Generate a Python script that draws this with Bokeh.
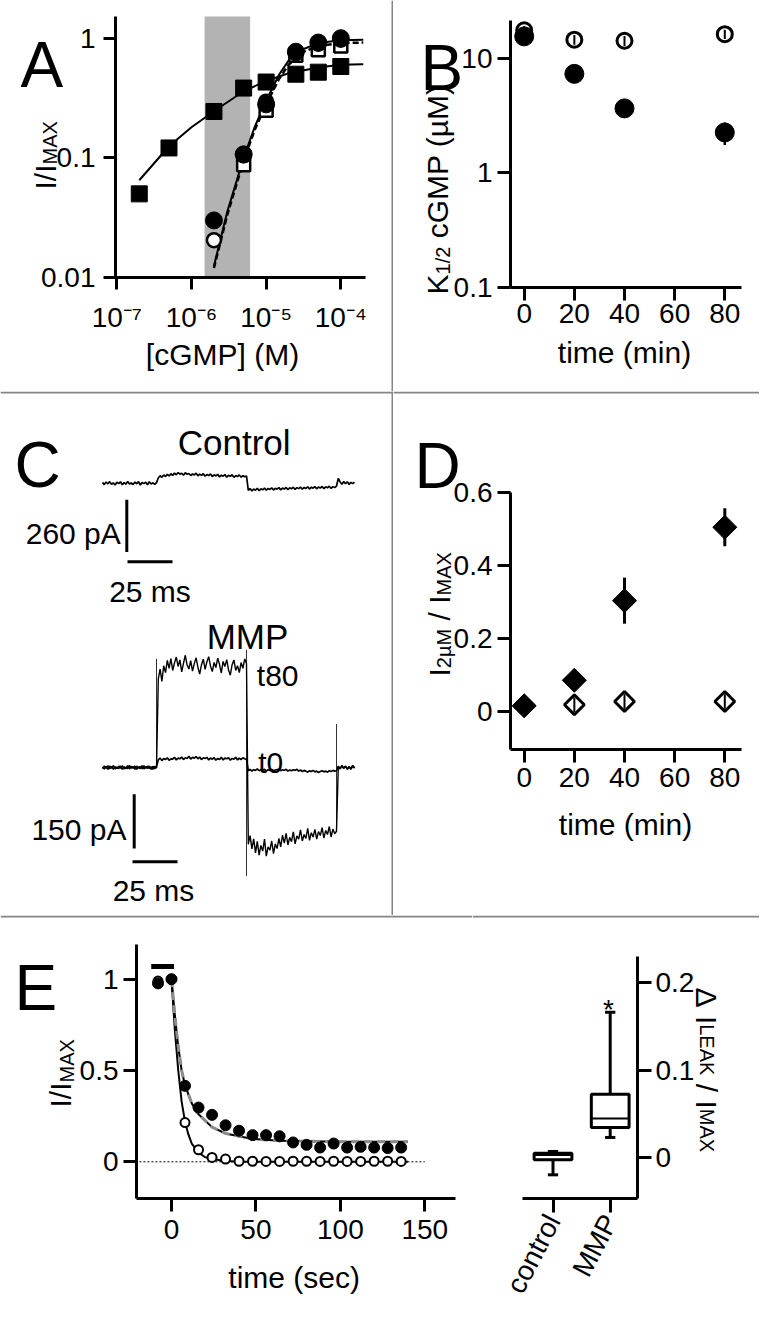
import math
import numpy as np
from bokeh.plotting import figure
from bokeh.layouts import column, row
from bokeh.models import Label, BoxAnnotation, FixedTicker, CustomJSTickFormatter, Range1d, Span
from bokeh.embed import file_html
from bokeh.resources import INLINE

FONT = "Liberation Sans"
TICK_FS = "28px"
TITLE = 30
SUB = 20
SEP_COLOR = "#858585"

# ====================== DATA ======================
# ---- Panel A : I/Imax vs [cGMP] (M)
A_conc_sq = [2e-7, 5e-7, 2e-6, 5e-6, 1e-5, 2.5e-5, 5e-5, 1e-4]
A_sq_filled = [0.050, 0.121, 0.244, 0.383, 0.43, 0.50, 0.52, 0.58]
A_conc_sq_open = [5e-6, 1e-5, 2.5e-5, 5e-5, 1e-4]
A_sq_open = [0.0875, 0.25, 0.72, 0.80, 0.86]
A_conc_circ = [2e-6, 5e-6, 1e-5, 2.5e-5, 5e-5, 1e-4]
A_circ_filled = [0.030, 0.107, 0.28, 0.77, 0.92, 1.0]
A_circ_open = [0.0205, 0.105, 0.295, 0.75, 0.90, 0.97]
A_fit_sq_conc = [2e-7, 5e-7, 1e-6, 2e-6, 5e-6, 1e-5, 2e-5, 5e-5, 1e-4, 2e-4]
A_fit_sq = [0.065, 0.125, 0.18, 0.245, 0.36, 0.44, 0.51, 0.57, 0.60, 0.605]
A_fit_circ_conc = [2e-6, 3e-6, 5e-6, 7e-6, 1e-5, 1.5e-5, 2e-5, 3e-5, 5e-5, 1e-4, 2e-4]
A_fit_circ_solid = [0.0125, 0.035, 0.10, 0.18, 0.30, 0.50, 0.65, 0.80, 0.91, 0.96, 0.97]
A_fit_circ_dash = [0.012, 0.033, 0.095, 0.17, 0.28, 0.46, 0.60, 0.76, 0.86, 0.91, 0.92]
A_band = [1.5e-6, 6.1e-6]
A_xticks = [1e-7, 1e-6, 1e-5, 1e-4]
A_yticks = [0.01, 0.1, 1]

# ---- Panel B : K1/2 (uM) vs time (min)
B_time = [0, 20, 40, 80]
B_k_mmp = [15.5, 7.3, 3.65, 2.25]
B_k_mmp_err = [1.0, 0.5, 0.3, 0.5]
B_k_ctl = [17.5, 14.5, 14.2, 16.2]
B_k_ctl_err = [1.6, 1.4, 1.4, 1.5]
B_xticks = [0, 20, 40, 60, 80]
B_yticks = [0.1, 1, 10]

# ---- Panel C : current traces (pA, 1 ms samples, t = 0..140 ms)
ctl_base1 = [4, -7, 6, -3, 8, -6, 2, -9, 5, -2, 7, -8, 3, -5, 9, -4, 1, -7, 6, -3,
             8, -9, 4, -2, 5, -8, 7, -4, 2, -6, 3]
ctl_on = [26, 37, 29, 41, 33, 44, 36, 47, 39, 50,
          42, 53, 45, 49, 40, 52, 44, 48, 38, 46,
          41, 50, 37, 45, 39, 47, 35, 43, 38, 46,
          33, 42, 36, 44, 31, 40, 35, 43, 30, 39,
          34, 42, 29, 38, 33, 41, 30, 37, 32, 36]
ctl_off = [-36, -27, -38, -29, -35, -25, -37, -28, -33, -24,
           -35, -26, -31, -23, -34, -25, -30, -22, -33, -24,
           -29, -21, -32, -23, -28, -20, -31, -22, -27, -19,
           -30, -21, -26, -18, -29, -20, -25, -17, -28, -19,
           -24, -16, -27, -18, -23, -15, -26, -17, -22, -14]
ctl_base2 = [24, 6, -5, 8, -3, 7, -6, 4, -2, 5]

t0_base1 = [2, -4, 3, -5, 4, -2, 5, -4, 1, -3, 4, -5, 2, -3, 5, -4, 3, -2, 4, -5,
            1, -3, 5, -4, 2, -2, 4, -5, 3, -3, 2]
t0_on = [21, 26, 19, 25, 22, 27, 20, 24, 23, 28,
         21, 26, 24, 29, 22, 27, 25, 31, 23, 28,
         26, 30, 24, 29, 22, 27, 25, 28, 21, 26,
         23, 27, 20, 25, 22, 28, 21, 26, 24, 27,
         20, 25, 23, 28, 21, 26, 22, 27, 24, 23]
t0_off = [-9, -5, -10, -6, -8, -4, -9, -6, -7, -5,
          -10, -6, -8, -5, -9, -7, -6, -4, -9, -6,
          -8, -5, -10, -7, -9, -6, -8, -5, -10, -7,
          -11, -8, -10, -13, -9, -11, -8, -12, -10, -14,
          -11, -9, -12, -10, -13, -9, -11, -8, -10, -9]
t0_base2 = [3, -4, 5, -2, 4, -5, 2, -3, 6, -2]

t80_base1 = [-3, 4, -2, 5, -4, 3, -5, 2, -3, 4, -2, 5, -4, 1, -3, 6, -2, 3, -5, 4,
             -1, 3, -4, 5, -2, 4, -3, 2, -5, 3, -1]
t80_on = [245, 272, 238, 281, 262, 296, 274, 301, 268, 289,
          305, 279, 297, 264, 288, 310, 283, 272, 295, 266,
          287, 303, 277, 258, 284, 299, 271, 292, 306, 280,
          265, 290, 276, 302, 285, 261, 293, 279, 298, 270,
          255, 284, 297, 268, 281, 262, 290, 274, 300, 287]
t80_off = [-212, -188, -225, -197, -236, -204, -242, -215, -231, -198,
           -245, -219, -228, -203, -238, -211, -224, -196, -219, -187,
           -209, -182, -214, -193, -205, -178, -211, -189, -198, -172,
           -203, -185, -196, -168, -201, -180, -192, -171, -198, -177,
           -188, -166, -195, -174, -185, -163, -192, -170, -183, -176]
t80_base2 = [4, -3, 5, -2, 3, -4, 2, -5, 4, -1]
# capacitive transients of the t80 trace (ms, pA top, pA bottom)
t80_spike_t = [30, 80, 130]
t80_spike_top = [300, 325, 120]
t80_spike_bot = [0, -300, -176]
C_scale_ctl_pA = 260
C_scale_mmp_pA = 150
C_scale_ms = 25

# ---- Panel D : I(2uM)/Imax vs time (min)
D_time = [0, 20, 40, 80]
D_mmp = [0.015, 0.085, 0.303, 0.504]
D_mmp_err = [0.005, 0.01, 0.063, 0.052]
D_ctl = [0.015, 0.018, 0.027, 0.027]
D_ctl_err = [0.02, 0.02, 0.02, 0.02]
D_yticks = [0, 0.2, 0.4, 0.6]

# ---- Panel E (left) : I/Imax vs time (sec)
E_t = [-8, 0, 8, 16, 24, 32, 40, 48, 56, 64, 72, 80, 88, 96, 104, 112, 120, 128, 136]
E_mmp = [0.977, 1.0, 0.416, 0.297, 0.257, 0.20, 0.17, 0.146, 0.146, 0.14,
         0.106, 0.093, 0.078, 0.10, 0.078, 0.082, 0.078, 0.075, 0.078]
E_ctl = [0.99, 1.0, 0.215, 0.066, 0.024, 0.015, 0.003, 0.003, 0.002, 0.002,
         0.003, 0.003, 0.002, 0.003, 0.002, 0.002, 0.003, 0.003, 0.002]
E_fit_t_mmp = [0, 2, 4, 6, 8, 12, 16, 24, 32, 48, 64, 100, 140]
E_fit_mmp = [1.0, 0.80, 0.63, 0.50, 0.42, 0.32, 0.26, 0.19, 0.155, 0.125, 0.115, 0.11, 0.11]
E_fit_t_ctl = [0, 2, 4, 6, 8, 10, 12, 16, 20, 30, 40, 140]
E_fit_ctl = [1.0, 0.72, 0.50, 0.33, 0.22, 0.15, 0.10, 0.05, 0.025, 0.006, 0.0, 0.0]
E_bar_t = [-12, 1.5]
E_bar_y = [1.07, 1.07]
E_zero_t = [-19, 150]
E_zero_y = [0, 0]
E_xticks = [0, 50, 100, 150]
E_yticks = [0, 0.5, 1]

# ---- Panel E (right) : box plot of delta I_leak / I_max
E2_groups = ["control", "MMP"]
E2_lo = [-0.0198, 0.0229]
E2_q1 = [-0.0026, 0.0343]
E2_med = [0.003, 0.0446]
E2_q3 = [0.0049, 0.0723]
E2_hi = [0.0069, 0.166]
E2_yticks = [0, 0.1, 0.2]

# ====================== HELPERS ======================
WID = {'I': 0.278, '/': 0.278, 'M': 0.833, 'A': 0.667, 'X': 0.667, 'K': 0.667, '1': 0.556,
       '2': 0.556, ' ': 0.278, 'c': 0.5, 'G': 0.778, 'P': 0.667, '(': 0.333, ')': 0.333,
       'µ': 0.576, 'Δ': 0.668, 'L': 0.556, 'E': 0.667}


def tw(s, px):
    return sum(WID.get(ch, 0.556) for ch in s) * px


class Map:
    """maps a screen coordinate (px) to a data value, from two reference ticks"""
    def __init__(self, v0, p0, v1, p1, log=False):
        f = math.log10 if log else (lambda v: v)
        self.log = log
        self.a0, self.a1, self.p0, self.p1 = f(v0), f(v1), p0, p1

    def __call__(self, P):
        a = self.a0 + (P - self.p0) * (self.a1 - self.a0) / (self.p1 - self.p0)
        return 10 ** a if self.log else a


def style_axes(p, tick_out=12, sx=8, sy=6):
    for ax in p.axis:
        ax.axis_line_width = 3
        ax.axis_line_color = "black"
        ax.major_tick_line_width = 3
        ax.major_tick_line_color = "black"
        ax.major_tick_out = tick_out
        ax.major_tick_in = 0
        ax.minor_tick_line_color = None
        ax.major_label_text_font = FONT
        ax.major_label_text_font_size = TICK_FS
        ax.major_label_text_color = "black"
    for ax in p.xaxis:
        ax.major_label_standoff = sx
    for ax in p.yaxis:
        ax.major_label_standoff = sy


def base_fig(w, h, **kw):
    p = figure(width=w, height=h, output_backend="svg", toolbar_location=None, min_border=0, **kw)
    p.outline_line_color = None
    p.background_fill_color = "white"
    p.border_fill_color = "white"
    p.grid.visible = False
    return p


def make_panel(x0, y0, w, h, rect, xm, ym, xlog=False, ylog=False, yside="left",
               tick_out=12, sx=8, sy=6):
    L, T, R, B = rect
    p = base_fig(w, h, x_axis_type="log" if xlog else "linear",
                 y_axis_type="log" if ylog else "linear",
                 x_range=Range1d(xm(x0), xm(x0 + w)), y_range=Range1d(ym(y0 + h), ym(y0)),
                 y_axis_location=yside)
    for ax in p.xaxis:
        ax.fixed_location = ym(B)
        ax.bounds = (xm(L), xm(R))
    for ax in p.yaxis:
        ax.fixed_location = xm(L if yside == "left" else R)
        ax.bounds = (ym(B), ym(T))
    style_axes(p, tick_out, sx, sy)
    return p, (x0, y0, x0 + w, y0 + h)


def separator(p, loc, dim):
    p.add_layout(Span(location=loc, dimension=dim, line_color=SEP_COLOR, line_width=2))


def label(p, frame, X, Y, text, size, align="left", baseline="alphabetic", angle=0.0):
    fl, ft, fr, fb = frame
    p.add_layout(Label(x=X - fl, y=fb - Y, x_units="screen", y_units="screen", text=text,
                       text_font=FONT, text_font_size=f"{size}px", text_align=align,
                       text_baseline=baseline, angle=angle, text_color="black"))


def vtext(p, frame, X, Y, parts, up=True):
    pos = Y
    for s, size, off in parts:
        if s.strip():
            if up:
                label(p, frame, X + off, pos, s, size, angle=math.pi / 2)
            else:
                label(p, frame, X - off, pos, s, size, angle=-math.pi / 2)
        pos = pos - tw(s, size) if up else pos + tw(s, size)


def num_fmt():
    return CustomJSTickFormatter(code="return String(tick);")


SUP_CODE = """
const sup = {"-": "⁻", "0": "⁰", "1": "¹", "2": "²", "3": "³", "4": "⁴",
             "5": "⁵", "6": "⁶", "7": "⁷", "8": "⁸", "9": "⁹"};
const e = Math.round(Math.log10(tick));
return "10" + String(e).split("").map(c => sup[c]).join("");
"""


def err_seg(p, x, y, e, **kw):
    lo = [a - b for a, b in zip(y, e)]
    hi = [a + b for a, b in zip(y, e)]
    p.segment(x0=x, y0=lo, x1=x, y1=hi, **kw)


# ====================== PANEL A ======================
rA = (123, 24, 373, 285)
xmA = Map(1e-7, 124.3, 1e-4, 348.3, log=True)
ymA = Map(1, 45.7, 0.01, 285, log=True)
pA, fA = make_panel(8, 8, 393, 391, rA, xmA, ymA, xlog=True, ylog=True, tick_out=12, sx=12, sy=8)
separator(pA, xmA(400), "height")
pA.add_layout(BoxAnnotation(left=A_band[0], right=A_band[1], bottom=ymA(rA[3]), top=ymA(rA[1]),
                            fill_color="#b3b3b3", fill_alpha=1.0, line_color=None, level="underlay"))
pA.line(A_fit_sq_conc, A_fit_sq, line_color="black", line_width=2)
pA.line(A_fit_circ_conc, A_fit_circ_solid, line_color="black", line_width=2)
pA.line(A_fit_circ_conc, A_fit_circ_dash, line_color="black", line_width=2.5, line_dash="6 3")
pA.scatter(A_conc_sq, A_sq_filled, marker="square", size=16, color="black")
pA.scatter(A_conc_sq_open, A_sq_open, marker="square", size=13, fill_color="white",
           line_color="black", line_width=2.5)
pA.scatter(A_conc_circ, A_circ_open, marker="circle", size=14, fill_color="white",
           line_color="black", line_width=2.5)
pA.scatter(A_conc_circ, A_circ_filled, marker="circle", size=17, color="black")
pA.xaxis.ticker = FixedTicker(ticks=A_xticks)
pA.yaxis.ticker = FixedTicker(ticks=A_yticks)
pA.xaxis.formatter = CustomJSTickFormatter(code=SUP_CODE)
pA.yaxis.formatter = num_fmt()
label(pA, fA, 28, 72, "A", 64)
vtext(pA, fA, 52.7, 197, [("I/I", TITLE, 0), ("MAX", SUB, 5)])
label(pA, fA, 230, 362, "[cGMP] (M)", TITLE, align="center")

# ====================== PANEL B ======================
rB = (518, 28, 749, 295)
xmB = Map(0, 531.7, 80, 732.3)
ymB = Map(10, 65.7, 0.1, 295, log=True)
pB, fB = make_panel(401, 8, 366, 391, rB, xmB, ymB, ylog=True, tick_out=13, sx=3, sy=5)
pB.scatter(B_time, B_k_ctl, marker="circle", size=15, fill_color="white",
           line_color="black", line_width=3)
err_seg(pB, B_time, B_k_ctl, B_k_ctl_err, line_color="black", line_width=2)
err_seg(pB, B_time, B_k_mmp, B_k_mmp_err, line_color="black", line_width=2.5)
pB.scatter(B_time, B_k_mmp, marker="circle", size=19, color="black")
pB.xaxis.ticker = FixedTicker(ticks=B_xticks)
pB.yaxis.ticker = FixedTicker(ticks=B_yticks)
pB.xaxis.formatter = num_fmt()
pB.yaxis.formatter = num_fmt()
label(pB, fB, 428, 75, "B", 64)
vtext(pB, fB, 445, 302, [("K", TITLE, 0), ("1/2", SUB, 5), (" ", TITLE, 0),
                         ("cGMP (µM)", TITLE, 0)])
label(pB, fB, 632, 360, "time (min)", TITLE, align="center")

# ====================== PANEL C ======================
C_T0_X = 110.0       # screen x of t = 0
C_PX_MS = 1.8        # px per ms
xmC = Map(0, C_T0_X, 1, C_T0_X + C_PX_MS)
C1_BASE, C1_PA_PX = 490.7, 4.97
C2_BASE, C2_PA_PX = 775.0, 2.762
ymC1 = Map(0, C1_BASE, -C1_PA_PX, C1_BASE + 1)
ymC2 = Map(0, C2_BASE, -C2_PA_PX, C2_BASE + 1)
CX0, CY0, CW, CH = 8, 399, 393, 524
pC = base_fig(CW, CH, x_axis_location=None, y_axis_location=None,
              x_range=Range1d(xmC(CX0), xmC(CX0 + CW)),
              y_range=Range1d(ymC1(CY0 + CH), ymC1(CY0)))
pC.extra_y_ranges = {"mmp": Range1d(ymC2(CY0 + CH), ymC2(CY0))}
fC = (CX0, CY0, CX0 + CW, CY0 + CH)
separator(pC, xmC(400), "height")
separator(pC, ymC1(400), "width")

ctl = ctl_base1 + ctl_on + ctl_off + ctl_base2
pC.line(np.arange(len(ctl)), ctl, line_color="black", line_width=1.7)
vb = ymC1(507.3)
pC.line([xmC(134.3), xmC(134.3)], [vb, vb - C_scale_ctl_pA], line_color="black", line_width=3)
pC.line([xmC(135), xmC(135) + C_scale_ms], [ymC1(569.2), ymC1(569.2)], line_color="black", line_width=3)

t80 = t80_base1 + t80_on + t80_off + t80_base2
t0 = t0_base1 + t0_on + t0_off + t0_base2
pC.segment(x0=t80_spike_t, y0=t80_spike_bot, x1=t80_spike_t, y1=t80_spike_top,
           line_color="#333333", line_width=1, y_range_name="mmp")
pC.line(np.arange(len(t80)), t80, line_color="black", line_width=1.4, y_range_name="mmp")
pC.line(np.arange(len(t0)), t0, line_color="black", line_width=1.7, y_range_name="mmp")
vb2 = ymC2(801.7)
pC.line([xmC(141.7), xmC(141.7)], [vb2, vb2 - C_scale_mmp_pA], line_color="black", line_width=3,
        y_range_name="mmp")
pC.line([xmC(140), xmC(140) + C_scale_ms], [ymC2(869.3), ymC2(869.3)], line_color="black",
        line_width=3, y_range_name="mmp")

label(pC, fC, 22, 472, "C", 64)
label(pC, fC, 241.7, 450, "Control", 35, align="center")
label(pC, fC, 128.3, 541, f"{C_scale_ctl_pA} pA", 30, align="right")
label(pC, fC, 157.5, 599, f"{C_scale_ms} ms", 30, align="center")
label(pC, fC, 255, 644, "MMP", 35, align="center")
label(pC, fC, 264.3, 683, "t80", 30)
label(pC, fC, 265.7, 770, "t0", 30)
label(pC, fC, 134, 837, f"{C_scale_mmp_pA} pA", 30, align="right")
label(pC, fC, 161, 898, f"{C_scale_ms} ms", 30, align="center")

# ====================== PANEL D ======================
rD = (518, 500, 749, 757)
xmD = Map(0, 531.7, 80, 732.3)
ymD = Map(0, 718.8, 0.6, 499.7)
pD, fD = make_panel(401, 399, 366, 524, rD, xmD, ymD, tick_out=13, sx=5, sy=5)
separator(pD, ymD(400), "width")
err_seg(pD, D_time, D_mmp, D_mmp_err, line_color="black", line_width=3)
pD.scatter(D_time, D_ctl, marker="square", angle=math.pi / 4, size=14, fill_color="white",
           line_color="black", line_width=3)
err_seg(pD, D_time[1:], D_ctl[1:], D_ctl_err[1:], line_color="black", line_width=2)
pD.scatter(D_time, D_mmp, marker="square", angle=math.pi / 4, size=17, color="black")
pD.xaxis.ticker = FixedTicker(ticks=B_xticks)
pD.yaxis.ticker = FixedTicker(ticks=D_yticks)
pD.xaxis.formatter = num_fmt()
pD.yaxis.formatter = num_fmt()
label(pD, fD, 422, 473, "D", 64)
vtext(pD, fD, 446.7, 684, [("I", TITLE, 0), ("2µM", SUB, 5), (" ", TITLE, 0), ("/", TITLE, 0),
                           (" ", TITLE, 0), ("I", TITLE, 0), ("MAX", SUB, 5)])
label(pD, fD, 633, 832, "time (min)", TITLE, align="center")

# ====================== PANEL E (left) ======================
rE1 = (144, 952, 463, 1206)
xmE1 = Map(0, 179, 150, 432.3)
ymE1 = Map(0, 1169.3, 1, 986.7)
pE1, fE1 = make_panel(8, 923, 472, 394, rE1, xmE1, ymE1, tick_out=13, sx=8, sy=5)
separator(pE1, ymE1(924), "width")
pE1.line(E_zero_t, E_zero_y, line_color="black", line_width=1, line_dash="2 2")
pE1.line(E_bar_t, E_bar_y, line_color="black", line_width=5)
pE1.line(E_fit_t_ctl, E_fit_ctl, line_color="black", line_width=2)
pE1.line(E_fit_t_mmp, E_fit_mmp, line_color="black", line_width=2)
pE1.line(E_fit_t_mmp, E_fit_mmp, line_color="#8c8c8c", line_width=3, line_dash="8 5")
pE1.scatter(E_t, E_ctl, marker="circle", size=9, fill_color="white", line_color="black", line_width=2)
pE1.scatter(E_t, E_mmp, marker="circle", size=11, color="black")
pE1.xaxis.ticker = FixedTicker(ticks=E_xticks)
pE1.yaxis.ticker = FixedTicker(ticks=E_yticks)
pE1.xaxis.formatter = num_fmt()
pE1.yaxis.formatter = num_fmt()
label(pE1, fE1, 22, 995, "E", 64)
vtext(pE1, fE1, 68.3, 1115, [("I/I", TITLE, 0), ("MAX", SUB, 6)])
label(pE1, fE1, 301.7, 1285, "time (sec)", TITLE, align="center")

# ====================== PANEL E (right) ======================
rE2 = (530, 964, 645, 1206)
xmE2 = Map(1, 560.5, 2, 617.7)
ymE2 = Map(0, 1165, 0.2, 990)
pE2, fE2 = make_panel(480, 923, 287, 394, rE2, xmE2, ymE2, yside="right", tick_out=14, sx=4, sy=4)
separator(pE2, ymE2(924), "width")
E2_x = [i + 1 for i in range(len(E2_groups))]
BW = 0.33
CAP = 0.09
pE2.segment(x0=E2_x, y0=E2_q3, x1=E2_x, y1=E2_hi, line_color="black", line_width=3)
pE2.segment(x0=E2_x, y0=E2_q1, x1=E2_x, y1=E2_lo, line_color="black", line_width=3)
pE2.segment(x0=[x - CAP for x in E2_x], y0=E2_hi, x1=[x + CAP for x in E2_x], y1=E2_hi,
            line_color="black", line_width=3)
pE2.segment(x0=[x - CAP for x in E2_x], y0=E2_lo, x1=[x + CAP for x in E2_x], y1=E2_lo,
            line_color="black", line_width=3)
pE2.quad(left=[x - BW for x in E2_x], right=[x + BW for x in E2_x], bottom=E2_q1, top=E2_q3,
         fill_color="white", line_color="black", line_width=3)
pE2.segment(x0=[x - BW for x in E2_x], y0=E2_med, x1=[x + BW for x in E2_x], y1=E2_med,
            line_color="black", line_width=2)
pE2.xaxis.ticker = FixedTicker(ticks=E2_x)
pE2.xaxis.major_label_overrides = {x: g for x, g in zip(E2_x, E2_groups)}
pE2.xaxis.major_label_orientation = 1.09
pE2.yaxis.ticker = FixedTicker(ticks=E2_yticks)
pE2.yaxis.formatter = num_fmt()
label(pE2, fE2, 616, 1017, "*", 28, align="center")
vtext(pE2, fE2, 714, 995, [("Δ", TITLE, 0), (" ", TITLE, 0), ("I", TITLE, 0), ("LEAK", SUB, 0),
                           (" ", TITLE, 0), ("/", TITLE, 0), (" ", TITLE, 0), ("I", TITLE, 0),
                           ("MAX", SUB, 0)], up=False)

# ====================== LAYOUT ======================
layout = column(row(pA, pB), row(pC, pD), row(pE1, pE2))

open("out.html", "w").write(file_html(layout, INLINE, title="Figure"))
